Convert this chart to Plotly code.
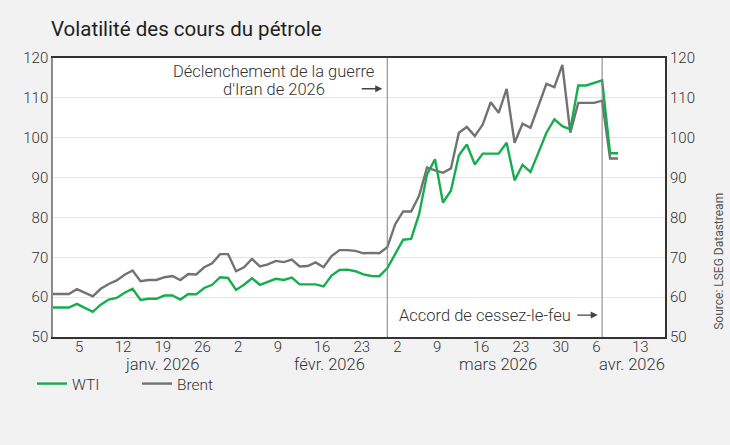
import numpy as np
import pandas as pd
import plotly.graph_objects as go

# ---------------- data ----------------
start_date = "2025-12-31"
end_date = "2026-04-09"
dates = pd.bdate_range(start_date, end_date)  # trading days (weekdays)

wti = [57.4, 57.4, 57.4, 58.3, 57.3, 56.3, 58.1, 59.4, 59.8, 61.1,
       62.1, 59.3, 59.6, 59.6, 60.4, 60.4, 59.4, 60.8, 60.7, 62.3,
       63.1, 65.0, 64.8, 61.8, 63.1, 64.75, 63.1, 63.9, 64.6, 64.3,
       64.9, 63.2, 63.2, 63.2, 62.7, 65.4, 66.8, 66.9, 66.5, 65.7,
       65.3, 65.25, 67.25,
       71.0, 74.4, 74.6, 80.8, 90.8, 94.6, 83.75, 86.7, 95.6, 98.3,
       93.3, 96.0, 96.0, 96.0, 98.75, 89.3, 93.2, 91.4, 96.25, 101.25,
       104.6, 102.9, 102.1, 113.1, 113.1, 113.75, 114.4, 96.1, 96.1]

brent = [60.8, 60.8, 60.8, 62.0, 61.0, 60.2, 62.1, 63.3, 64.2, 65.6,
         66.7, 64.0, 64.3, 64.3, 65.0, 65.3, 64.3, 65.8, 65.7, 67.5,
         68.5, 70.8, 70.8, 66.5, 67.5, 69.6, 67.7, 68.2, 69.1, 68.8,
         69.4, 67.7, 67.8, 68.7, 67.5, 70.3, 71.8, 71.8, 71.6, 71.0,
         71.1, 71.0, 72.5,
         78.3, 81.5, 81.5, 85.4, 92.5, 91.8, 91.2, 92.3, 101.25, 102.7,
         100.4, 103.3, 108.9, 106.25, 112.25, 98.75, 103.5, 102.5, 107.9, 113.5,
         112.7, 118.3, 101.25, 108.75, 108.75, 108.75, 109.3, 94.8, 94.8]

tick_dates = ["2026-01-05", "2026-01-12", "2026-01-19", "2026-01-26",
              "2026-02-02", "2026-02-09", "2026-02-16", "2026-02-23",
              "2026-03-02", "2026-03-09", "2026-03-16", "2026-03-23",
              "2026-03-30", "2026-04-06", "2026-04-13"]
tick_labels = ["5", "12", "19", "26", "2", "9", "16", "23",
               "2", "9", "16", "23", "30", "6", "13"]

month_labels = ["janv. 2026", "févr. 2026", "mars 2026", "avr. 2026"]

war_date = "2026-02-27"
ceasefire_date = "2026-04-07"

series_names = ["WTI", "Brent"]


def tidx(d):
    """Trading-day position on the axis (weekdays since start)."""
    return int(np.busday_count(start_date, str(pd.Timestamp(d).date())))


x = [tidx(d) for d in dates]
hover_dates = [d.strftime("%d/%m/%Y") for d in dates]
tickvals = [tidx(d) for d in tick_dates]
war_x = tidx(war_date)
cease_x = tidx(ceasefire_date)

# ---------------- style ----------------
FONT = "Roboto"
TXT = "#333333"
GREEN = "#17ad4f"
GREY = "#727272"
W, H = 730, 445
ML, MR, MT, MB = 53, 65, 58, 108
PW, PH = W - ML - MR, H - MT - MB
X_MAX = 76.9
month_pos = [13.7, 34.8, 55.9, 72.8]


def px_x(p):
    return (p - ML) / PW


def px_y(p):
    return (H - MB - p) / PH


fig = go.Figure()
fig.add_trace(go.Scatter(x=x, y=brent, name=series_names[1], mode="lines",
                         line=dict(color=GREY, width=2.4), yaxis="y",
                         customdata=hover_dates,
                         hovertemplate="%{customdata}<br>%{y:.2f}<extra>Brent</extra>"))
fig.add_trace(go.Scatter(x=x, y=wti, name=series_names[0], mode="lines",
                         line=dict(color=GREEN, width=2.4), yaxis="y2",
                         customdata=hover_dates,
                         hovertemplate="%{customdata}<br>%{y:.2f}<extra>WTI</extra>"))

tickfont = dict(family=FONT, size=15, color=TXT, weight=300)

fig.update_layout(
    width=W, height=H,
    margin=dict(l=ML, r=MR, t=MT, b=MB, autoexpand=False),
    paper_bgcolor="#f2f2f2", plot_bgcolor="white",
    font=dict(family=FONT, color=TXT),
    title=dict(text="Volatilité des cours du pétrole",
               font=dict(family=FONT, size=20.5, color="#222222"),
               xref="container", x=51 / W, xanchor="left",
               yref="container", y=1 - 28.5 / H, yanchor="middle"),
    xaxis=dict(range=[0, X_MAX], tickvals=tickvals, ticktext=tick_labels,
               ticks="", showgrid=False, zeroline=False, automargin=False,
               showline=True, linecolor="#333333", linewidth=2, mirror=True,
               tickfont=tickfont, ticklabelposition="outside right",
               ticklabelshift=-3, ticklabelstandoff=-5),
    yaxis=dict(range=[50, 120], dtick=10, ticks="", showgrid=True,
               gridcolor="#e6e6e6", gridwidth=1, zeroline=False, automargin=False,
               showline=True, linecolor="#8a8a8a", linewidth=1.5,
               tickfont=tickfont),
    yaxis2=dict(range=[50, 120], dtick=10, ticks="", showgrid=False,
                zeroline=False, overlaying="y", side="right", anchor="x",
                automargin=False,
                showline=True, linecolor="#333333", linewidth=2,
                tickfont=tickfont),
    showlegend=True,
    legend=dict(orientation="h", traceorder="reversed",
                xref="container", x=32 / W, xanchor="left",
                yref="container", y=1 - 384 / H, yanchor="middle",
                entrywidth=60, entrywidthmode="pixels",
                font=dict(family=FONT, size=15.5, color=TXT, weight=300),
                bgcolor="rgba(0,0,0,0)"),
    hovermode="x unified",
)

# event lines
for ex in (war_x, cease_x):
    fig.add_shape(type="line", xref="x", yref="paper", x0=ex, x1=ex, y0=0, y1=1,
                  line=dict(color="#808080", width=1))

ann_font = dict(family=FONT, size=16.5, color=TXT, weight=300)
war_center_shift = -(387.3 - 274)
fig.add_annotation(x=war_x, y=116.6, xref="x", yref="y", xanchor="center",
                   yanchor="middle", xshift=war_center_shift, showarrow=False,
                   text="Déclenchement de la guerre", font=ann_font)
fig.add_annotation(x=war_x, y=112.2, xref="x", yref="y", xanchor="center",
                   yanchor="middle", xshift=war_center_shift, showarrow=False,
                   text="d'Iran de 2026", font=ann_font)
fig.add_annotation(x=war_x, y=112.3, xref="x", yref="y", xshift=-5,
                   ax=-22, ay=0, text="", showarrow=True, arrowhead=2,
                   arrowsize=1, arrowwidth=1.4, arrowcolor="#444444", standoff=0)

fig.add_annotation(x=cease_x, y=55.5, xref="x", yref="y", xanchor="right",
                   yanchor="middle", xshift=-29.4, showarrow=False,
                   text="Accord de cessez-le-feu", font=ann_font)
fig.add_annotation(x=cease_x, y=55.5, xref="x", yref="y", xshift=-4.4,
                   ax=-22, ay=0, text="", showarrow=True, arrowhead=2,
                   arrowsize=1, arrowwidth=1.4, arrowcolor="#444444", standoff=0)

# month labels
for lbl, pos in zip(month_labels, month_pos):
    fig.add_annotation(x=pos, y=0, xref="x", yref="paper", xanchor="center",
                       yanchor="middle", yshift=-27.5, showarrow=False,
                       text=lbl, font=ann_font)

# source
fig.add_annotation(x=px_x(718.3), y=px_y(332), xref="paper", yref="paper",
                   xanchor="center", yanchor="bottom", textangle=-90,
                   showarrow=False, text="Source: LSEG Datastream",
                   font=dict(family=FONT, size=12, color="#555555"))

fig.write_html(
    "out.html",
    config={"displayModeBar": False},
    post_script="document.body.style.margin='0';document.body.style.overflow='hidden';",
)
